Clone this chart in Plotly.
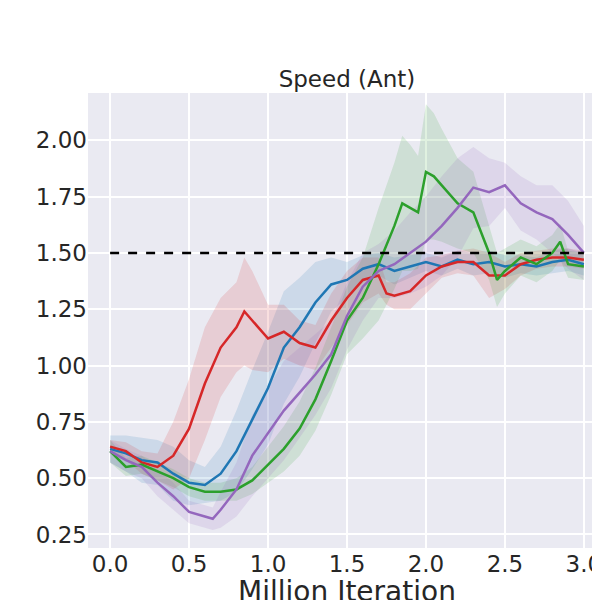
import plotly.graph_objects as go

blue_x = [0, .1, .2, .3, .4, .5, .6, .7, .8, .9, 1.0, 1.1, 1.2, 1.3, 1.4, 1.5, 1.6, 1.7, 1.8, 1.9, 2.0, 2.1, 2.2, 2.3, 2.4, 2.5, 2.6, 2.7, 2.8, 2.9, 3.0]
blue_y = [.63, .61, .58, .57, .52, .48, .47, .52, .62, .76, .90, 1.08, 1.17, 1.28, 1.36, 1.38, 1.43, 1.45, 1.42, 1.44, 1.46, 1.44, 1.47, 1.45, 1.46, 1.44, 1.45, 1.44, 1.46, 1.47, 1.45]
blue_w = [.06, .08, .10, .10, .12, .10, .08, .12, .18, .22, .25, .25, .22, .18, .12, .08, .06, .05, .06, .05, .04, .04, .04, .05, .05, .05, .04, .04, .05, .05, .05]

red_x = [0, .1, .2, .3, .4, .5, .6, .7, .8, .85, .9, 1.0, 1.1, 1.2, 1.3, 1.4, 1.5, 1.6, 1.7, 1.75, 1.8, 1.9, 2.0, 2.1, 2.2, 2.3, 2.4, 2.5, 2.6, 2.7, 2.8, 2.9, 3.0]
red_y = [.64, .62, .57, .55, .60, .72, .92, 1.08, 1.17, 1.24, 1.20, 1.12, 1.15, 1.10, 1.08, 1.20, 1.30, 1.38, 1.40, 1.32, 1.31, 1.33, 1.40, 1.44, 1.46, 1.46, 1.40, 1.40, 1.45, 1.47, 1.48, 1.48, 1.47]
red_w = [.03, .04, .05, .06, .15, .22, .25, .22, .20, .24, .22, .15, .12, .10, .10, .12, .12, .10, .08, .05, .06, .08, .08, .05, .05, .06, .10, .06, .05, .04, .04, .04, .04]

green_x = [0, .1, .2, .3, .4, .5, .6, .7, .8, .9, 1.0, 1.1, 1.2, 1.3, 1.4, 1.5, 1.6, 1.7, 1.8, 1.85, 1.9, 1.95, 2.0, 2.05, 2.1, 2.2, 2.3, 2.4, 2.45, 2.5, 2.6, 2.7, 2.8, 2.85, 2.9, 3.0]
green_y = [.62, .55, .56, .53, .50, .46, .44, .44, .45, .49, .56, .63, .72, .85, 1.02, 1.20, 1.30, 1.45, 1.62, 1.72, 1.70, 1.68, 1.86, 1.84, 1.80, 1.72, 1.68, 1.50, 1.38, 1.42, 1.48, 1.45, 1.50, 1.55, 1.45, 1.44]
green_w = [.05, .04, .04, .04, .04, .04, .04, .04, .05, .06, .08, .10, .12, .14, .15, .15, .18, .25, .28, .30, .28, .25, .30, .28, .25, .20, .18, .12, .12, .10, .08, .08, .08, .08, .06, .06]

purple_x = [0, .1, .2, .3, .4, .5, .6, .65, .7, .8, .9, 1.0, 1.1, 1.2, 1.3, 1.4, 1.5, 1.6, 1.7, 1.8, 1.9, 2.0, 2.1, 2.2, 2.3, 2.4, 2.5, 2.6, 2.7, 2.8, 2.9, 3.0]
purple_y = [.62, .58, .55, .48, .42, .35, .33, .32, .36, .45, .60, .70, .80, .88, .96, 1.05, 1.22, 1.35, 1.42, 1.45, 1.50, 1.55, 1.62, 1.70, 1.79, 1.77, 1.80, 1.72, 1.68, 1.65, 1.58, 1.50]
purple_w = [.05, .05, .05, .06, .06, .05, .05, .05, .08, .12, .18, .20, .22, .20, .18, .15, .15, .15, .12, .15, .18, .20, .22, .22, .18, .15, .10, .12, .12, .15, .15, .12]

series = [
    (blue_x, blue_y, blue_w, "31,119,180"),
    (red_x, red_y, red_w, "214,39,40"),
    (green_x, green_y, green_w, "44,160,44"),
    (purple_x, purple_y, purple_w, "148,103,189"),
]

fig = go.Figure()
for xs, ys, ws, rgb in series:
    upper = [y + w for y, w in zip(ys, ws)]
    lower = [y - w for y, w in zip(ys, ws)]
    fig.add_trace(go.Scatter(x=xs + xs[::-1], y=upper + lower[::-1], fill="toself",
                             fillcolor=f"rgba({rgb},0.15)", line=dict(width=0),
                             hoverinfo="skip", showlegend=False))
for xs, ys, ws, rgb in series:
    fig.add_trace(go.Scatter(x=xs, y=ys, mode="lines", line=dict(color=f"rgb({rgb})", width=2.5),
                             showlegend=False))

fig.add_trace(go.Scatter(x=[0, 3], y=[1.5, 1.5], mode="lines",
                         line=dict(color="black", width=2.5, dash="dash"), showlegend=False))

fig.update_layout(
    width=600, height=600,
    margin=dict(l=80, r=2, t=85, b=60, autoexpand=False),
    paper_bgcolor="white", plot_bgcolor="#EAEAF2",
    font=dict(family="DejaVu Sans", size=23, color="#262626"),
    title=dict(text="Speed (Ant)", x=0.565, xanchor="center", y=0.868, yanchor="bottom",
               font=dict(size=23)),
)
fig.update_xaxes(range=[-0.14, 3.14], tickvals=[0, .5, 1, 1.5, 2, 2.5, 3],
                 ticktext=["0.0", "0.5", "1.0", "1.5", "2.0", "2.5", "3.0"],
                 gridcolor="white", gridwidth=1.5, zeroline=False, automargin=False,
                 title=dict(text="Million Iteration", standoff=2))
fig.update_yaxes(range=[0.19, 2.21], tickvals=[.25, .5, .75, 1, 1.25, 1.5, 1.75, 2],
                 ticktext=["0.25", "0.50", "0.75", "1.00", "1.25", "1.50", "1.75", "2.00"],
                 gridcolor="white", gridwidth=1.5, zeroline=False, automargin=False)

fig.write_html("out.html")
